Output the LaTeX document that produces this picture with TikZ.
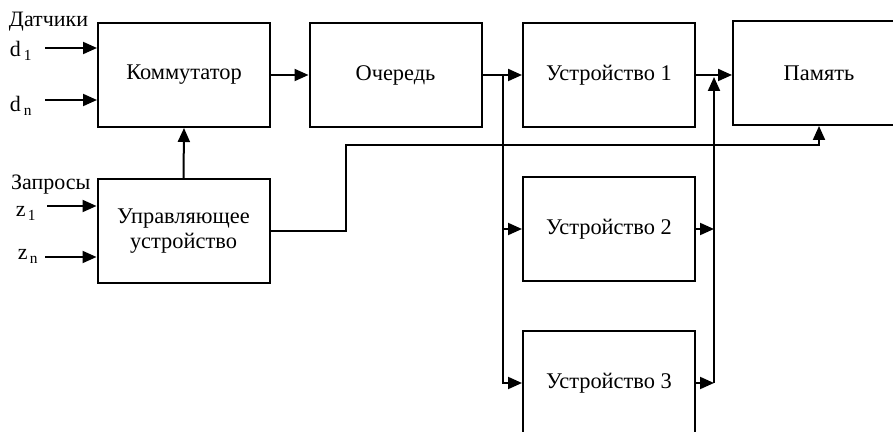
\documentclass[tikz,border=0pt]{standalone}
\usepackage{fontspec}
\setmainfont{Liberation Serif}
\usetikzlibrary{positioning, arrows.meta}

\begin{document}
\begin{tikzpicture}[x=0.5pt, y=-0.5pt, line width=1pt,
  block/.style={draw, minimum width=86pt, minimum height=52pt, inner sep=0pt,
                align=center, font=\fontsize{11.2}{12.5}\selectfont},
  arr/.style={-{Triangle[length=7pt,width=6pt]}},
  lbl/.style={anchor=base west, inner sep=0pt, font=\fontsize{11}{12.5}\selectfont}]
\useasboundingbox (0,0) rectangle (893,432);
\clip (0,0) rectangle (893,432);
\node[block]                                     (komm) at (184,75)    {Коммутатор};
\node[block]                                     (och)  at (395.5,75)  {Очередь};
\node[block]                                     (ust1) at (609,75)    {Устройство 1};
\node[block, below of = ust1, node distance=77pt](ust2)                {Устройство 2};
\node[block, below of = ust2, node distance=77pt](ust3)                {Устройство 3};
\node[block]                                     (pam)  at (819,73)    {Память};
\node[block]                                     (upr)  at (183.5,231) {Управляющее\\устройство};
\node[lbl] (dat) at (8,27)   {Датчики};
\node[lbl] (ld1) at (9,57)   {d\kern1.5pt\textsubscript{1}};
\node[lbl] (ldn) at (9,112)  {d\kern1.5pt\textsubscript{n}};
\node[lbl] (zap) at (10,190) {Запросы};
\node[lbl] (lz1) at (15,217) {z\kern1pt\textsubscript{1}};
\node[lbl] (lzn) at (17,260) {z\kern1pt\textsubscript{n}};
\coordinate (d1)    at (45,48);
\coordinate (dn)    at (45,100);
\coordinate (z1)    at (47,206);
\coordinate (zn)    at (45,257);
\coordinate (split) at (503,75);
\coordinate (join)  at (714,75);
\coordinate (bend)  at (346,145);
\draw[arr] (d1) -- (d1 -| komm.west);
\draw[arr] (dn) -- (dn -| komm.west);
\draw[arr] (z1) -- (z1 -| upr.west);
\draw[arr] (zn) -- (zn -| upr.west);
\draw[arr] (upr.north) -- (komm.south);
\draw[arr] (komm) -- (och);
\draw[arr] (och) -- (ust1);
\draw[arr] (split) |- (ust2.west);
\draw[arr] (split) |- (ust3.west);
\draw[arr] (ust1.east) -- (ust1.east -| pam.west);
\draw[arr] (ust2.east) -- (ust2.east -| join);
\draw[arr] (ust3.east) -- (ust3.east -| join);
\draw[arr, shorten >=1pt] (ust3.east -| join) -- (join);
\draw[arr] (upr.east) -- (upr.east -| bend) -- (bend) -| (pam.south);
\end{tikzpicture}
\end{document}
